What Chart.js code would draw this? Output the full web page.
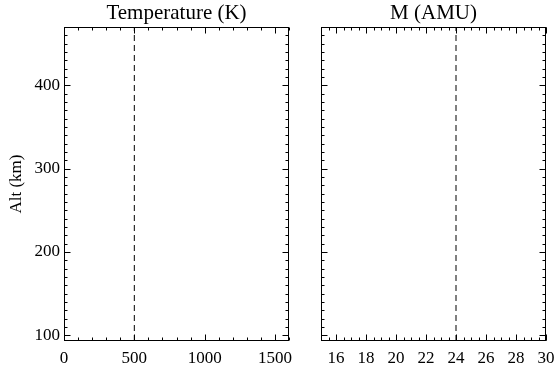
<!DOCTYPE html>
<html>
<head>
<meta charset="utf-8">
<script src="https://cdn.jsdelivr.net/npm/chart.js@4"></script>
<style>
body { margin: 0; background: #fff; }
#wrap { position: relative; width: 554px; height: 371px; }
canvas { position: absolute; top: 0; }
</style>
</head>
<body>
<div id="wrap">
<canvas id="temp" width="300" height="371" style="left:0"></canvas>
<canvas id="mass" width="264" height="371" style="left:290px"></canvas>
</div>
<script>
// altitude axis (shared)
const altRange = [93, 470];
const altTicks = [100, 200, 300, 400];
const altMinor = 10;

// temperature panel
const tempRange = [0, 1600];
const tempTicks = [0, 500, 1000, 1500];
const tempMinor = 100;
const tempLine = [500, 500];

// mean molecular mass panel
const massRange = [15, 30];
const massTicks = [16, 18, 20, 22, 24, 26, 28, 30];
const massMinor = 0.5;
const massLine = [24, 24];

const SERIF = "'Liberation Serif', 'Times New Roman', serif";

// box around the plot, inward ticks on all four sides, title over the plot area
const frame = {
    id: "frame",
    afterDraw(chart, args, opts) {
        const ctx = chart.ctx;
        const a = chart.chartArea;
        const L = Math.round(a.left) + 0.5, R = Math.round(a.right) - 0.5;
        const T = Math.round(a.top) + 0.5, B = Math.round(a.bottom) - 0.5;

        ctx.save();
        ctx.strokeStyle = "#000";
        ctx.lineWidth = 1;
        ctx.strokeRect(L, T, R - L, B - T);

        function values(scale, step) {
            const out = [];
            let v = Math.ceil(scale.min / step) * step;
            for (; v <= scale.max + 1e-9; v += step) out.push(+v.toFixed(4));
            return out;
        }

        function marks(scale, vals, len) {
            ctx.beginPath();
            vals.forEach(v => {
                const p = Math.round(scale.getPixelForValue(v)) + 0.5;
                if (scale.isHorizontal()) {
                    ctx.moveTo(p, B); ctx.lineTo(p, B - len);
                    ctx.moveTo(p, T); ctx.lineTo(p, T + len);
                } else {
                    ctx.moveTo(L, p); ctx.lineTo(L + len, p);
                    ctx.moveTo(R, p); ctx.lineTo(R - len, p);
                }
            });
            ctx.stroke();
        }

        const xs = chart.scales.x, ys = chart.scales.y;
        marks(xs, values(xs, opts.xMinor), 3);
        marks(xs, opts.xTicks, 6);
        marks(ys, values(ys, opts.yMinor), 3);
        marks(ys, altTicks, 6);

        ctx.fillStyle = "#000";
        ctx.font = "21px " + SERIF;
        ctx.textAlign = "center";
        ctx.textBaseline = "alphabetic";
        ctx.fillText(opts.title, (a.left + a.right) / 2, 19);
        ctx.restore();
    }
};

function makePanel(id, cfg) {
    const tickFont = { family: SERIF, size: 17 };

    return new Chart(document.getElementById(id), {
        type: "scatter",

        data: {
            datasets: [
                {
                    data: altRange.map((y, i) => ({ x: cfg.line[i], y: y })),
                    showLine: true,
                    pointRadius: 0,
                    borderColor: "#000",
                    borderWidth: 1,
                    borderDash: [6, 4]
                }
            ]
        },

        options: {
            responsive: false,
            animation: false,
            devicePixelRatio: 1,

            layout: {
                padding: { top: 27, right: cfg.padRight, left: 0, bottom: 0 }
            },

            scales: {
                x: {
                    type: "linear",
                    min: cfg.range[0],
                    max: cfg.range[1],
                    afterBuildTicks: s => { s.ticks = cfg.ticks.map(v => ({ value: v })); },
                    afterFit: s => { s.height = 30; s.paddingLeft = 0; s.paddingRight = 0; },
                    grid: { display: false, drawTicks: false },
                    border: { display: false },
                    ticks: {
                        padding: 7,
                        color: "#000",
                        font: tickFont,
                        maxRotation: 0,
                        autoSkip: false,
                        callback: v => String(v)
                    }
                },
                y: {
                    type: "linear",
                    min: altRange[0],
                    max: altRange[1],
                    afterBuildTicks: s => { s.ticks = altTicks.map(v => ({ value: v })); },
                    afterFit: s => { s.width = cfg.yWidth; s.paddingTop = 0; s.paddingBottom = 0; },
                    grid: { display: false, drawTicks: false },
                    border: { display: false },
                    title: {
                        display: cfg.showY,
                        text: "Alt (km)",
                        color: "#000",
                        font: tickFont,
                        padding: { top: 6, bottom: 0 }
                    },
                    ticks: {
                        display: cfg.showY,
                        padding: 4,
                        color: "#000",
                        font: tickFont,
                        autoSkip: false,
                        callback: v => String(v)
                    }
                }
            },

            plugins: {
                legend: { display: false },
                tooltip: { enabled: false },
                frame: {
                    title: cfg.title,
                    xTicks: cfg.ticks,
                    xMinor: cfg.minor,
                    yMinor: altMinor
                }
            }
        },

        plugins: [frame]
    });
}

makePanel("temp", {
    title: "Temperature (K)",
    range: tempRange,
    ticks: tempTicks,
    minor: tempMinor,
    line: tempLine,
    showY: true,
    yWidth: 64,
    padRight: 11
});

makePanel("mass", {
    title: "M (AMU)",
    range: massRange,
    ticks: massTicks,
    minor: massMinor,
    line: massLine,
    showY: false,
    yWidth: 31,
    padRight: 8
});
</script>
</body>
</html>
